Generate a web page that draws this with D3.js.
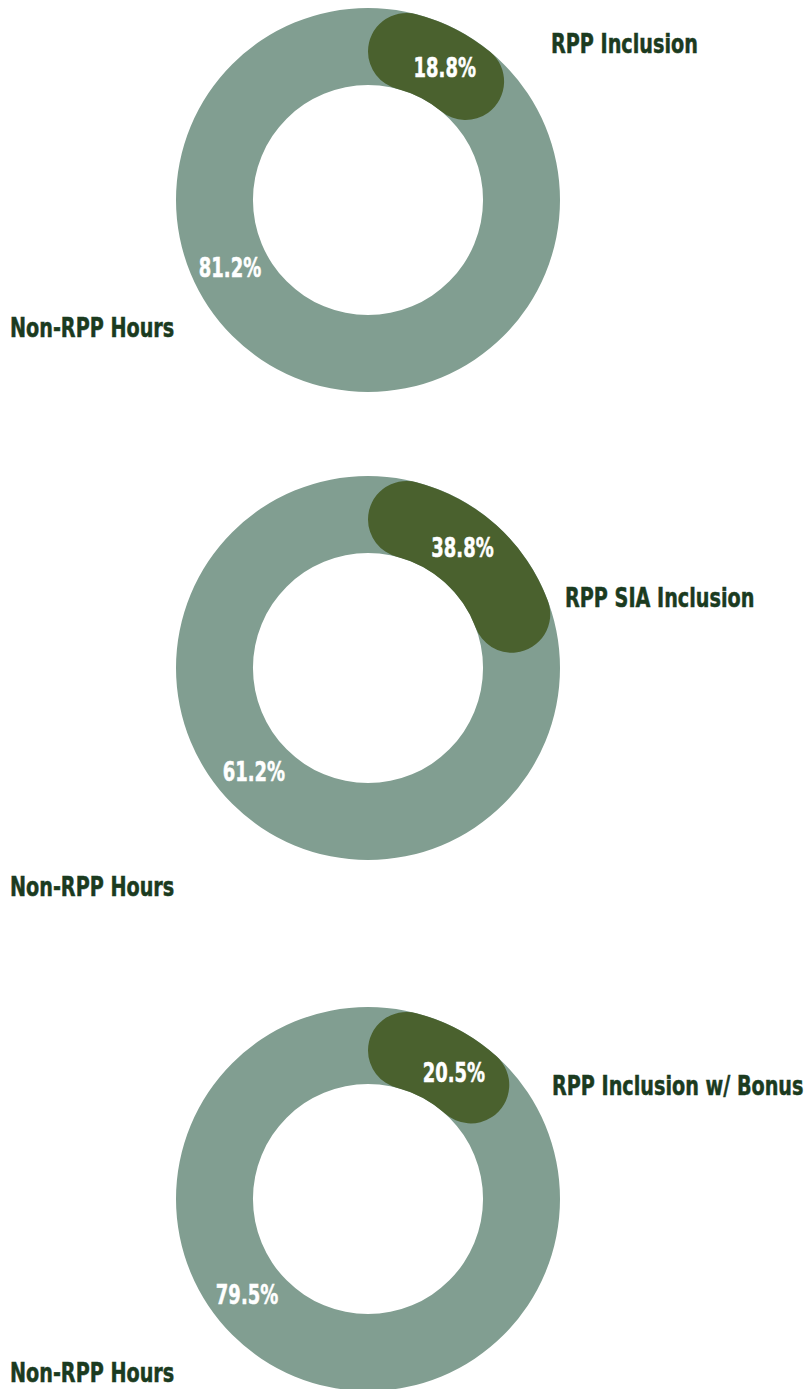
<!DOCTYPE html>
<html>
<head>
<meta charset="utf-8">
<script src="https://cdn.jsdelivr.net/npm/d3@7"></script>
<style>
  html, body { margin: 0; padding: 0; background: #fff; }
  svg text { font-family: "DejaVu Sans Condensed", "DejaVu Sans", sans-serif; font-weight: bold; }
</style>
</head>
<body>
<svg id="chart"></svg>
<script>
// --- DATA ---
const categories = ["RPP Inclusion", "RPP SIA Inclusion", "RPP Inclusion w/ Bonus"];
const rppValues = [18.8, 38.8, 20.5];
const nonRppValues = [81.2, 61.2, 79.5];
const otherLabel = "Non-RPP Hours";

// --- LAYOUT ---
const width = 811, height = 1389;
const outerR = 192, innerR = 115;
const centerX = 368;
const centerY = [200, 668, 1199];
const rppLabelAngle = [30, 38, 34];      // degrees, clockwise from top
const otherLabelAngle = [244, 228, 232];
const catLabelPos = [[551, 53], [565, 607], [552, 1095]];
const otherLabelY = [337, 896, 1382];

const colors = { ring: "#819e91", rpp: "#4a612e", text: "#1b3b1f", value: "#ffffff" };
const rad = d => d * Math.PI / 180;

// narrow the condensed font down to the poster-style lettering
const squeezeName = 0.79, squeezeValue = 0.74;

// sweep of the rounded green band, as drawn in the original graphic
const sweep = d3.scaleLinear().domain([0, 100]).range([rad(25.8), rad(175.8)]);

const svg = d3.select("#chart").attr("width", width).attr("height", height);

const ring = d3.arc().innerRadius(innerR).outerRadius(outerR).startAngle(0).endAngle(2 * Math.PI);
const band = d3.arc().innerRadius(innerR).outerRadius(outerR)
  .cornerRadius((outerR - innerR) / 2)
  .startAngle(0)
  .endAngle(d => sweep(d));

const midR = (outerR + innerR) / 2;
const at = deg => [midR * Math.sin(rad(deg)), -midR * Math.cos(rad(deg))];

function label(parent, x, y, txt, fill, squeeze, anchor) {
  return parent.append("text")
    .attr("transform", `translate(${x},${y}) scale(${squeeze},1)`)
    .attr("text-anchor", anchor)
    .attr("font-size", 27)
    .attr("fill", fill)
    .attr("stroke", fill)
    .attr("stroke-width", 0.5)
    .text(txt);
}

categories.forEach((cat, i) => {
  const g = svg.append("g").attr("transform", `translate(${centerX},${centerY[i]})`);

  g.append("path").attr("d", ring()).attr("fill", colors.ring);
  g.append("path").datum(rppValues[i]).attr("d", band).attr("fill", colors.rpp);

  const p1 = at(rppLabelAngle[i]);
  label(g, p1[0], p1[1] + 10, rppValues[i].toFixed(1) + "%", colors.value, squeezeValue, "middle");

  const p2 = at(otherLabelAngle[i]);
  label(g, p2[0], p2[1] + 10, nonRppValues[i].toFixed(1) + "%", colors.value, squeezeValue, "middle");

  label(svg, catLabelPos[i][0], catLabelPos[i][1], cat, colors.text, squeezeName, "start");
  label(svg, 10, otherLabelY[i], otherLabel, colors.text, squeezeName, "start");
});
</script>
</body>
</html>
